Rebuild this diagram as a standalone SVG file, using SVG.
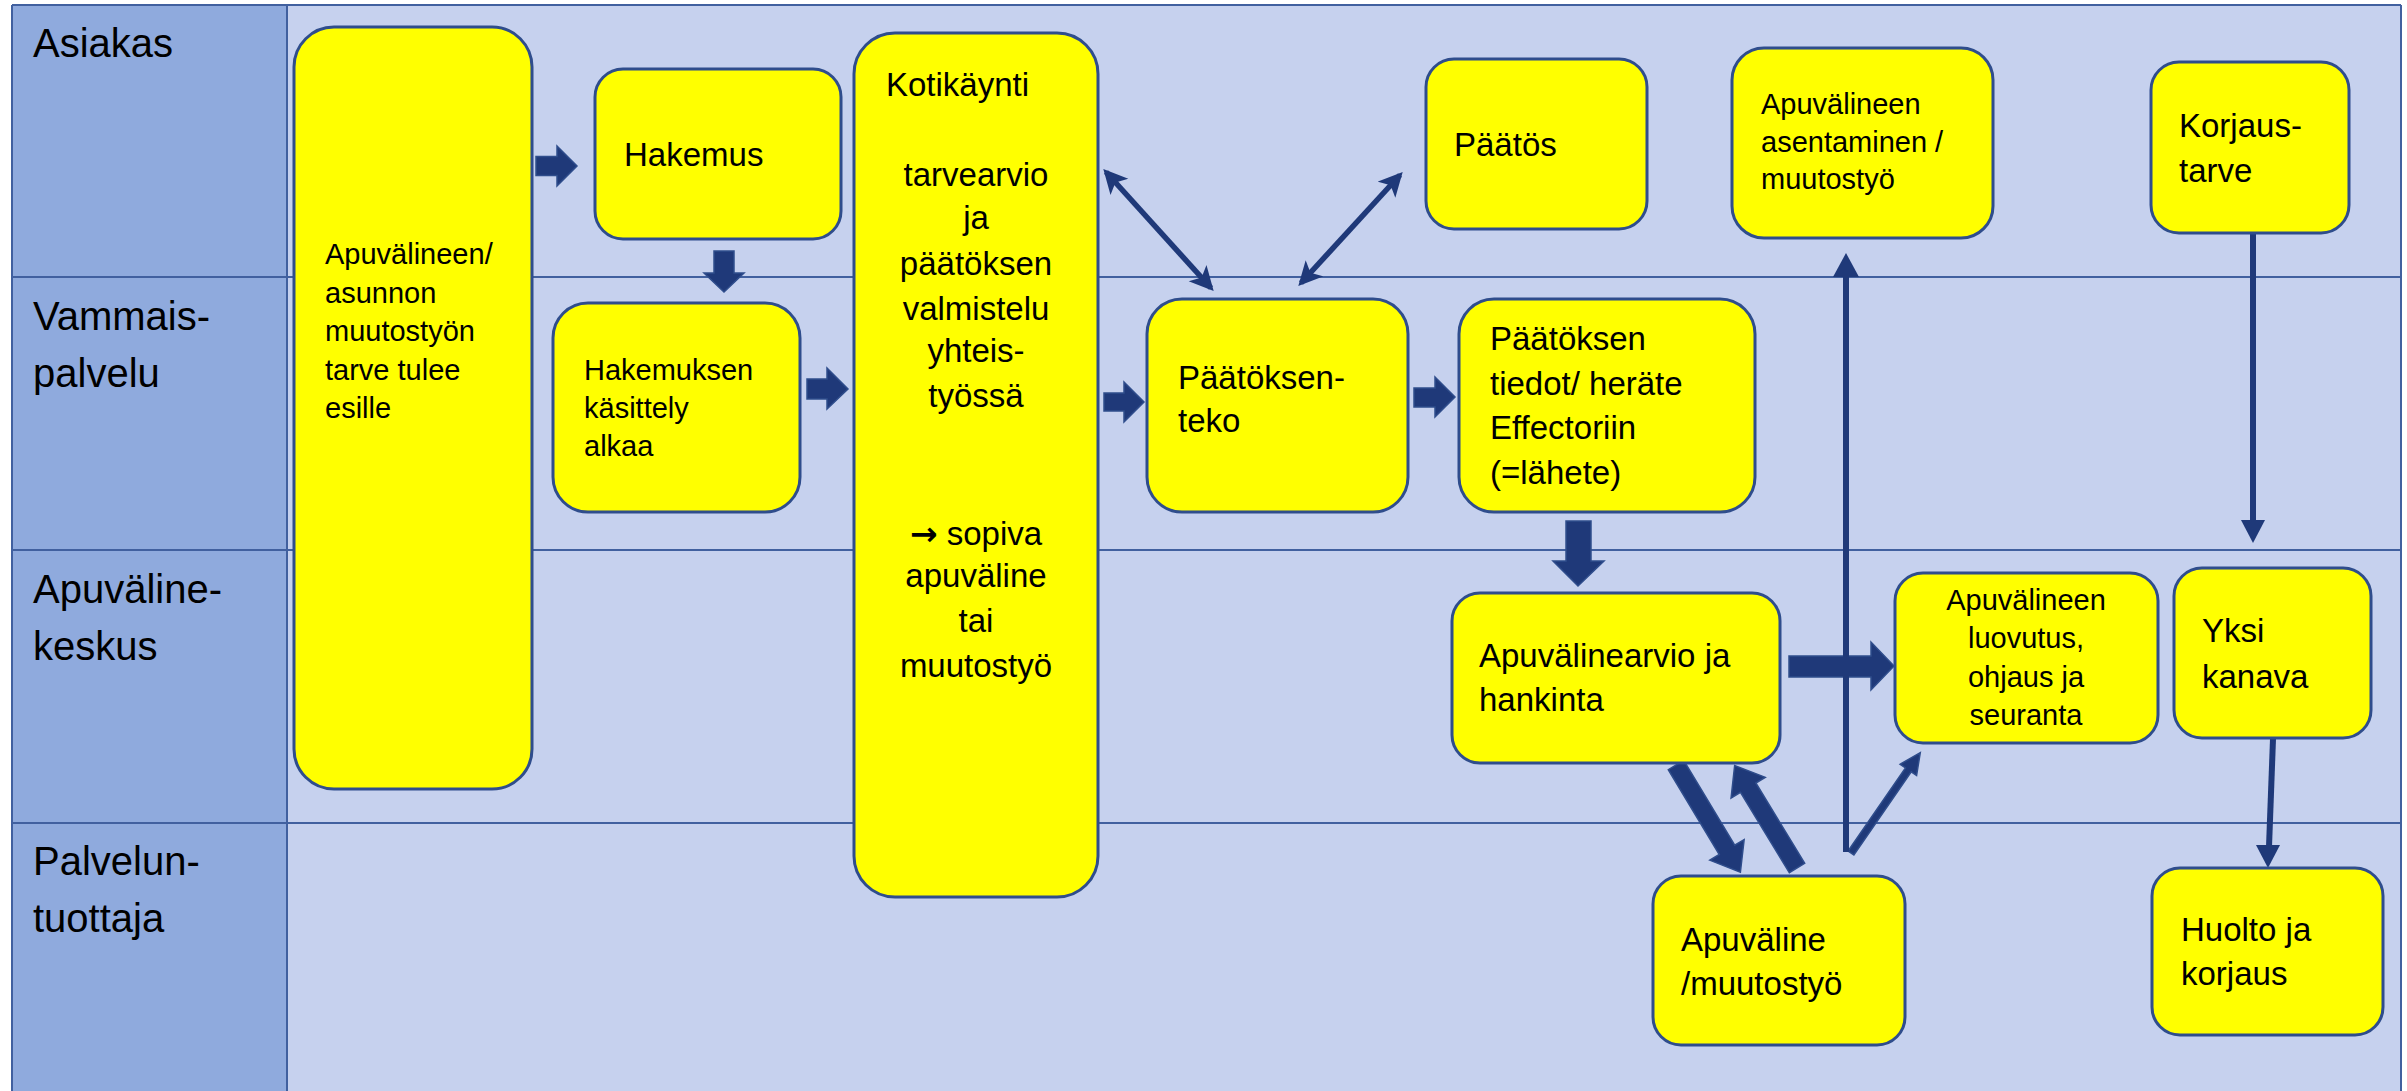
<svg xmlns="http://www.w3.org/2000/svg" width="2407" height="1091" viewBox="0 0 2407 1091">
<style>
  .lanebg { fill: #C6D1EE; }
  .labelbg { fill: #8FAADD; }
  .sep { stroke: #41609F; stroke-width: 2; fill: none; }
  .lane { font-family: "Liberation Sans", Arial, sans-serif; font-size: 40px; fill: #000; }
  .node rect { fill: #FFFF00; stroke: #2F4D8C; stroke-width: 3; }
  .t29 { font-family: "Liberation Sans", Arial, sans-serif; font-size: 29px; fill: #000; }
  .t33 { font-family: "Liberation Sans", Arial, sans-serif; font-size: 33px; fill: #000; }
  .arr { font-family: "DejaVu Sans", sans-serif; font-weight: bold; }
  .blk { fill: #1F3979; stroke: #2F4D8C; stroke-width: 1.5; }
  .thin { stroke: #1F3979; stroke-width: 6; fill: none; }
  .dbl { stroke: #1F3979; stroke-width: 5.5; fill: none; }
  .head { fill: #1F3979; }
</style>
<defs>
  <marker id="dh" markerUnits="userSpaceOnUse" markerWidth="26" markerHeight="26" refX="20" refY="12" orient="auto-start-reverse">
    <path d="M0,0 L24,12 L0,24 L6,12 Z" fill="#1F3979"/>
  </marker>
</defs>

<g id="background">
  <rect x="12" y="5" width="2389" height="1090" class="lanebg"/>
  <rect x="12" y="5" width="275" height="1090" class="labelbg"/>
  <line x1="12" y1="5" x2="2401" y2="5" class="sep"/>
  <line x1="12" y1="5" x2="12" y2="1091" class="sep"/>
  <line x1="2401" y1="5" x2="2401" y2="1091" class="sep"/>
  <line x1="287" y1="5" x2="287" y2="1091" class="sep"/>
  <line x1="12" y1="277" x2="2401" y2="277" class="sep"/>
  <line x1="12" y1="550" x2="2401" y2="550" class="sep"/>
  <line x1="12" y1="823" x2="2401" y2="823" class="sep"/>
</g>

<g id="lane-labels" class="lane">
  <text x="33" y="57">Asiakas</text>
  <text x="33" y="330">Vammais-<tspan x="33" y="387">palvelu</tspan></text>
  <text x="33" y="603">Apuväline-<tspan x="33" y="660">keskus</tspan></text>
  <text x="33" y="875">Palvelun-<tspan x="33" y="932">tuottaja</tspan></text>
</g>

<g id="connectors">
  <polygon class="blk" points="536,156.5 557,156.5 557,146 577,166 557,186 557,175.5 536,175.5"/>
  <polygon class="blk" points="714,251 734,251 734,273 744,273 724,292 704,273 714,273"/>
  <polygon class="blk" points="807,379 827,379 827,368 848,389 827,409 827,399 807,399"/>
  <polygon class="blk" points="1104,393 1124,393 1124,382 1144,402 1124,422 1124,411 1104,411"/>
  <polygon class="blk" points="1414,388 1435,388 1435,377 1455,397 1435,417 1435,407 1414,407"/>
  <polygon class="blk" points="1566,521 1591,521 1591,561 1604,561 1578,586 1553,561 1566,561"/>
  <polygon class="blk" points="1789,656 1871,656 1871,642 1894,666 1871,690 1871,677 1789,677"/>
  <polygon class="blk" transform="translate(1676,765) rotate(59)" points="0,-9 99,-9 99,-20 125,0 99,20 99,9 0,9"/>
  <polygon class="blk" transform="translate(1797,868) rotate(-121.3)" points="0,-9 94,-9 94,-20 120,0 94,20 94,9 0,9"/>
  <polygon class="blk" transform="translate(1851,853) rotate(-55.4)" points="0,-3.5 101,-3.5 101,-10 122,0 101,10 101,3.5 0,3.5"/>
  <line x1="1846" y1="852" x2="1846" y2="274" class="thin"/>
  <polygon class="head" points="1833,277 1846,253 1859,277"/>
  <line x1="2253" y1="233" x2="2253" y2="522" class="thin"/>
  <polygon class="head" points="2241,520 2253,543 2265,520"/>
  <line x1="2273" y1="739" x2="2269" y2="847" class="thin"/>
  <polygon class="head" points="2256,845 2268,868 2280,845"/>
  <line x1="1106" y1="172" x2="1211" y2="288" class="dbl" marker-start="url(#dh)" marker-end="url(#dh)"/>
  <line x1="1301" y1="283" x2="1400" y2="175" class="dbl" marker-start="url(#dh)" marker-end="url(#dh)"/>
</g>

<g id="n-tarve" class="node">
  <rect x="294" y="27" width="238" height="762" rx="40" ry="40"/>
  <text class="t29" x="325" y="264">Apuvälineen/<tspan x="325" y="302.5">asunnon</tspan><tspan x="325" y="341">muutostyön</tspan><tspan x="325" y="379.5">tarve tulee</tspan><tspan x="325" y="418">esille</tspan></text>
</g>

<g id="n-hakemus" class="node">
  <rect x="595" y="69" width="246" height="170" rx="28" ry="28"/>
  <text class="t33" x="624" y="166">Hakemus</text>
</g>

<g id="n-kasittely" class="node">
  <rect x="553" y="303" width="247" height="209" rx="35" ry="35"/>
  <text class="t29" x="584" y="380">Hakemuksen<tspan x="584" y="418">käsittely</tspan><tspan x="584" y="456">alkaa</tspan></text>
</g>

<g id="n-kotikaynti" class="node">
  <rect x="854" y="33" width="244" height="864" rx="41" ry="41"/>
  <text class="t33" x="886" y="96">Kotikäynti</text>
  <text class="t33" text-anchor="middle" x="976" y="186">tarvearvio<tspan x="976" y="229">ja</tspan><tspan x="976" y="275">päätöksen</tspan><tspan x="976" y="320">valmistelu</tspan><tspan x="976" y="362">yhteis-</tspan><tspan x="976" y="407">työssä</tspan><tspan x="976" y="545"><tspan class="arr">→</tspan> sopiva</tspan><tspan x="976" y="587">apuväline</tspan><tspan x="976" y="632">tai</tspan><tspan x="976" y="677">muutostyö</tspan></text>
</g>

<g id="n-paatoksenteko" class="node">
  <rect x="1147" y="299" width="261" height="213" rx="35" ry="35"/>
  <text class="t33" x="1178" y="389">Päätöksen-<tspan x="1178" y="432">teko</tspan></text>
</g>

<g id="n-paatos" class="node">
  <rect x="1426" y="59" width="221" height="170" rx="28" ry="28"/>
  <text class="t33" x="1454" y="156">Päätös</text>
</g>

<g id="n-tiedot" class="node">
  <rect x="1459" y="299" width="296" height="213" rx="35" ry="35"/>
  <text class="t33" x="1490" y="350">Päätöksen<tspan x="1490" y="395">tiedot/ heräte</tspan><tspan x="1490" y="439">Effectoriin</tspan><tspan x="1490" y="484">(=lähete)</tspan></text>
</g>

<g id="n-asentaminen" class="node">
  <rect x="1732" y="48" width="261" height="190" rx="32" ry="32"/>
  <text class="t29" x="1761" y="114">Apuvälineen<tspan x="1761" y="152">asentaminen /</tspan><tspan x="1761" y="189">muutostyö</tspan></text>
</g>

<g id="n-korjaustarve" class="node">
  <rect x="2151" y="62" width="198" height="171" rx="28" ry="28"/>
  <text class="t33" x="2179" y="137">Korjaus-<tspan x="2179" y="182">tarve</tspan></text>
</g>

<g id="n-arvio" class="node">
  <rect x="1452" y="593" width="328" height="170" rx="28" ry="28"/>
  <text class="t33" x="1479" y="667">Apuvälinearvio ja<tspan x="1479" y="711">hankinta</tspan></text>
</g>

<g id="n-luovutus" class="node">
  <rect x="1895" y="573" width="263" height="170" rx="28" ry="28"/>
  <text class="t29" text-anchor="middle" x="2026" y="610">Apuvälineen<tspan x="2026" y="648">luovutus,</tspan><tspan x="2026" y="687">ohjaus ja</tspan><tspan x="2026" y="725">seuranta</tspan></text>
</g>

<g id="n-yksikanava" class="node">
  <rect x="2174" y="568" width="197" height="170" rx="28" ry="28"/>
  <text class="t33" x="2202" y="642">Yksi<tspan x="2202" y="688">kanava</tspan></text>
</g>

<g id="n-apuvaline" class="node">
  <rect x="1653" y="876" width="252" height="169" rx="28" ry="28"/>
  <text class="t33" x="1681" y="951">Apuväline<tspan x="1681" y="995">/muutostyö</tspan></text>
</g>

<g id="n-huolto" class="node">
  <rect x="2152" y="868" width="231" height="167" rx="28" ry="28"/>
  <text class="t33" x="2181" y="985">korjaus</text>
  <text class="t33" x="2181" y="941">Huolto ja</text>
</g>
</svg>
